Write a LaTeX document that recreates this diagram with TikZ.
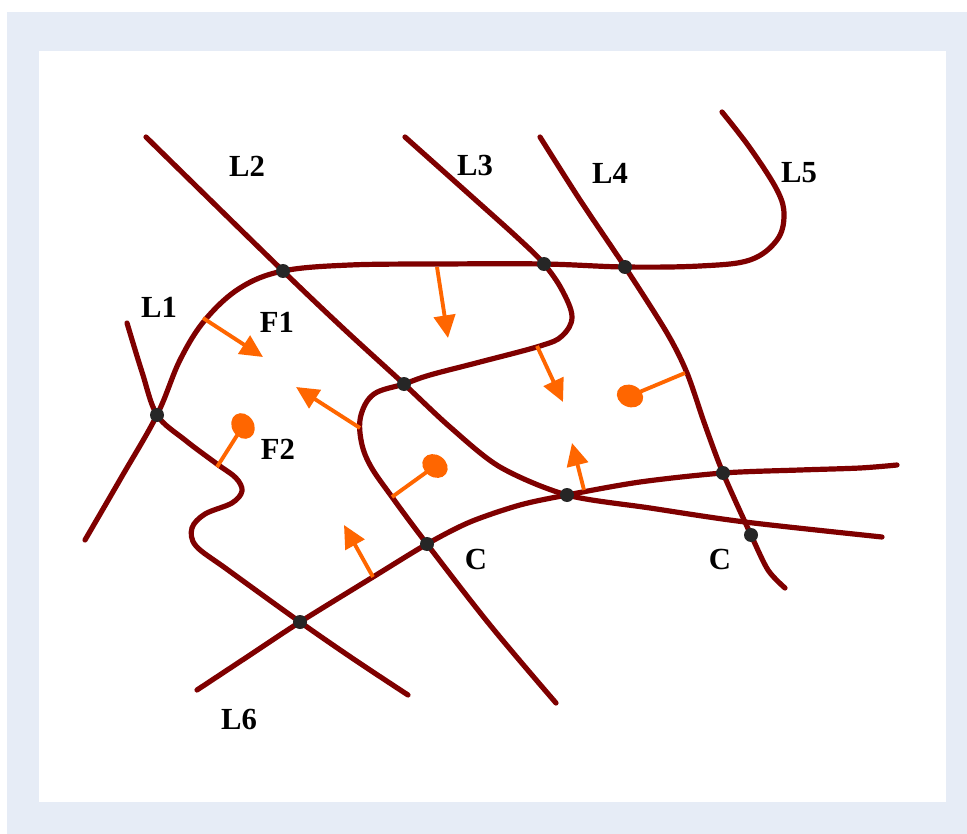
\documentclass[tikz,border=0pt]{standalone}
\usepackage{fontspec}
\setmainfont{Liberation Serif}
\usetikzlibrary{arrows.meta}
\definecolor{roadred}{HTML}{7F0000}
\definecolor{floworange}{HTML}{FF6600}
\definecolor{framebg}{HTML}{E6ECF6}
\tikzset{
	road/.style={draw=roadred, line width=3.9pt, line cap=round},
	flow/.style={draw=floworange, line width=2.9pt, -{Triangle[length=17pt,width=16pt]}},
	stem/.style={draw=floworange, line width=2.9pt},
	junc/.style={fill=black!85},
	lbl/.style={font=\fontsize{23}{27}\selectfont\bfseries, inner sep=0pt},
}
\begin{document}
\begin{tikzpicture}[x=0.75pt, y=-0.75pt]
	\useasboundingbox (0,0) rectangle (967,834);
	% frame
	\fill[framebg] (7,12) rectangle (967,834);
	\fill[white] (39,51) rectangle (946,802);

	% junction points
	\coordinate (j12) at (157,415);
	\coordinate (j2t) at (283,271);
	\coordinate (j3t) at (544,264);
	\coordinate (j4t) at (625,267);
	\coordinate (j23) at (404,384);
	\coordinate (j26) at (567,495);
	\coordinate (j46) at (723,473);
	\coordinate (j42) at (751,535);
	\coordinate (j36) at (427,544);
	\coordinate (j16) at (300,622);

	% top curve, from lower left up to L5
	\draw[road] plot[smooth, tension=0.6] coordinates {(85,540) (121,478) (j12) (180,360) (205,320) (240,288) (j2t) (350,265) (440,264) (j3t) (j4t) (700,266) (750,260) (777,240) (784,215) (777,190) (750,148) (722,112)};
	% L1
	\draw[road] plot[smooth, tension=0.55] coordinates {(127,323) (142,372) (j12) (185,440) (217,464) (236,478) (242,491) (232,503) (205,514) (192,528) (196,546) (228,570) (j16) (355,660) (408,695)};
	% L2
	\draw[road] plot[smooth, tension=0.5] coordinates {(146,137) (j2t) (345,330) (j23) (450,427) (500,467) (j26) (650,508) (745,522) (882,537)};
	% L3
	\draw[road] plot[smooth, tension=0.6] coordinates {(405,137) (470,195) (520,240) (j3t) (562,290) (572,317) (562,336) (540,346) (480,362) (430,375) (j23) (374,394) (361,415) (361,440) (370,465) (392,497) (j36) (490,625) (556,703)};
	% L4
	\draw[road] plot[smooth, tension=0.5] coordinates {(540,137) (580,200) (j4t) (667,333) (687,373) (705,425) (j46) (j42) (768,570) (785,588)};
	% L6
	\draw[road] plot[smooth, tension=0.5] coordinates {(197,690) (250,655) (j16) (373,577) (j36) (470,522) (520,505) (j26) (640,482) (j46) (800,470) (860,468) (897,465)};

	% junction dots
	\foreach \p in {j12, j2t, j3t, j4t, j23, j26, j46, j42, j36, j16} {
		\fill[junc] (\p) circle (7);
	}

	% flow arrows
	\foreach \sx/\sy/\ex/\ey in {203/318/263/357, 437/267/448/338, 360/428/296/387, 537/346/563/402, 584/490/572/443, 373/577/344/525} {
		\draw[flow] (\sx,\sy) -- (\ex,\ey);
	}

	% lollipop markers
	\foreach \sx/\sy/\ex/\ey/\ang in {217/467/243/426/-57.6, 392/497/435/466/-35.8, 685/373/630/396/-22.7} {
		\draw[stem] (\sx,\sy) -- (\ex,\ey);
		\fill[floworange, rotate around={\ang:(\ex,\ey)}] (\ex,\ey) ellipse [x radius=13.5, y radius=11];
	}

	% labels
	\foreach \x/\y/\txt/\nm in {247/166/L2/l2, 475/165/L3/l3, 610/173/L4/l4, 799/173/L5/l5, 159/307/L1/l1, 277/322/F1/f1, 278/449/F2/f2, 476/559/C/ca, 720/559/C/cb, 239/719/L6/l6} {
		\node[lbl] (\nm) at (\x,\y) {\txt};
	}
\end{tikzpicture}
\end{document}
